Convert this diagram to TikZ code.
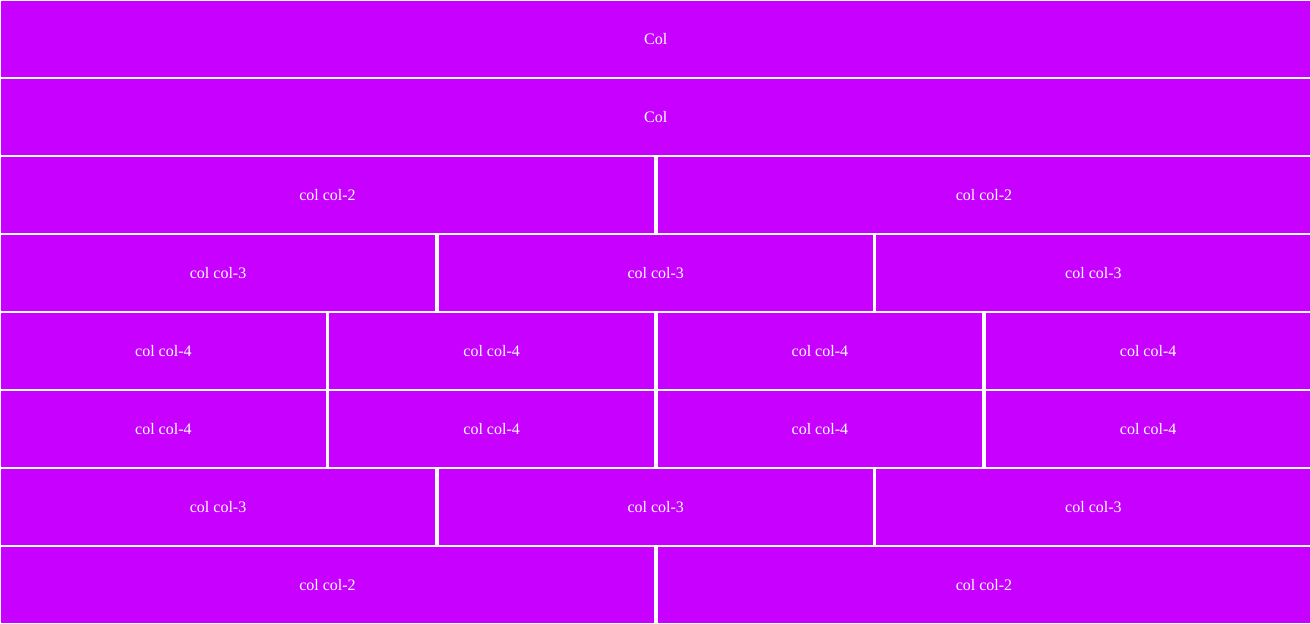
\documentclass[tikz,border=0pt]{standalone}
\usepackage{fontspec}
\setmainfont{Liberation Serif}
\definecolor{cellpurple}{HTML}{C800FF}
\begin{document}
\begin{tikzpicture}[x=1pt,y=-1pt,
  cell/.style={fill=cellpurple, text=white, inner sep=0pt, outer sep=0pt,
    font=\fontsize{16}{19}\selectfont, anchor=center, minimum height=76pt}]
\useasboundingbox[fill=white] (0,0) rectangle (1310,624);
\foreach \r/\n/\txt in {0/1/Col,1/1/Col,2/2/col col-2,3/3/col col-3,4/4/col col-4,5/4/col col-4,6/3/col col-3,7/2/col col-2}{
  \pgfmathsetmacro\w{1313/\n}
  \pgfmathsetmacro\cw{\w-3.5}
  \pgfmathsetmacro\cy{78*\r+39}
  \foreach \k in {1,...,\n}{
    \pgfmathsetmacro\cx{(\k-0.5)*\w-0.75}
    \node[cell, minimum width=\cw pt] (c\r-\k) at (\cx,\cy) {\txt};
  }
}
\end{tikzpicture}
\end{document}
